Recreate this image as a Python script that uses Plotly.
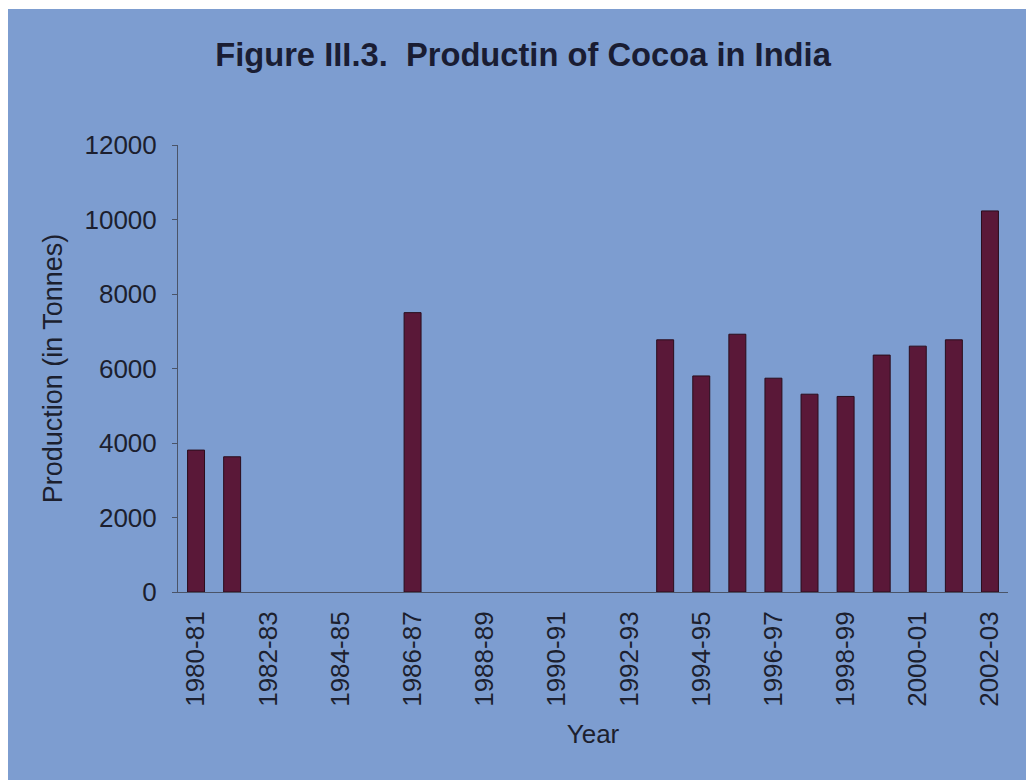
import plotly.graph_objects as go

# Cocoa production in India by crop year (tonnes); None = no bar drawn
years = [
    "1980-81", "1981-82", "1982-83", "1983-84", "1984-85", "1985-86",
    "1986-87", "1987-88", "1988-89", "1989-90", "1990-91", "1991-92",
    "1992-93", "1993-94", "1994-95", "1995-96", "1996-97", "1997-98",
    "1998-99", "1999-00", "2000-01", "2001-02", "2002-03",
]
production = [
    3810, 3630, None, None, None, None,
    7500, None, None, None, None, None,
    None, 6770, 5800, 6920, 5740, 5310,
    5250, 6360, 6600, 6770, 10230,
]
shown_ticks = years[::2]
y_ticks = [0, 2000, 4000, 6000, 8000, 10000, 12000]
y_tick_text = [str(v) for v in y_ticks]

W, H = 1026, 780
ML, MR, MT, MB = 178, 18, 145, 188
pw, ph = W - ML - MR, H - MT - MB

def px_x(px):
    return (px - ML) / pw

def px_y(py):
    return (H - MB - py) / ph

BG = "#7d9dd0"
TXT = "#1c1f2e"
FONT = "Liberation Sans, Arial, sans-serif"

fig = go.Figure(
    go.Bar(
        x=years,
        y=production,
        marker=dict(color="#5a1838", line=dict(color="#2a0d1c", width=1)),
        hoverinfo="x+y",
    )
)

fig.update_layout(
    width=W,
    height=H,
    margin=dict(l=ML, r=MR, t=MT, b=MB),
    paper_bgcolor="white",
    plot_bgcolor="rgba(0,0,0,0)",
    bargap=0.53,
    showlegend=False,
    font=dict(family=FONT, color=TXT),
    title=dict(
        text="<b>Figure III.3.\u00a0\u00a0Productin of Cocoa in India</b>",
        x=px_x(523),
        xref="paper",
        xanchor="center",
        y=1 - 55 / H,
        yanchor="middle",
        font=dict(size=32.7, color="#1a1d33", family=FONT),
    ),
    shapes=[
        dict(
            type="rect", xref="paper", yref="paper", layer="below",
            x0=px_x(8), x1=px_x(W + 5), y0=px_y(H + 5), y1=px_y(9),
            fillcolor=BG, line=dict(width=0),
        )
    ],
    xaxis=dict(
        type="category",
        tickmode="array",
        tickvals=shown_ticks,
        ticktext=shown_ticks,
        tickangle=-90,
        tickfont=dict(size=26, color=TXT),
        ticklabelstandoff=8,
        showline=True,
        linecolor="#4a5468",
        linewidth=1,
        ticks="",
        showgrid=False,
        title=dict(text="Year", font=dict(size=26, color=TXT), standoff=18),
    ),
    yaxis=dict(
        range=[0, 12000],
        tickmode="array",
        tickvals=y_ticks,
        ticktext=y_tick_text,
        tickfont=dict(size=26, color=TXT),
        showline=True,
        linecolor="#4a5468",
        linewidth=1,
        ticks="outside",
        ticklen=5,
        tickcolor="#4a5468",
        ticklabelstandoff=10,
        showgrid=False,
        zeroline=False,
        title=dict(text="Production (in Tonnes)", font=dict(size=27, color=TXT), standoff=14),
    ),
)

fig.write_html("out.html")
